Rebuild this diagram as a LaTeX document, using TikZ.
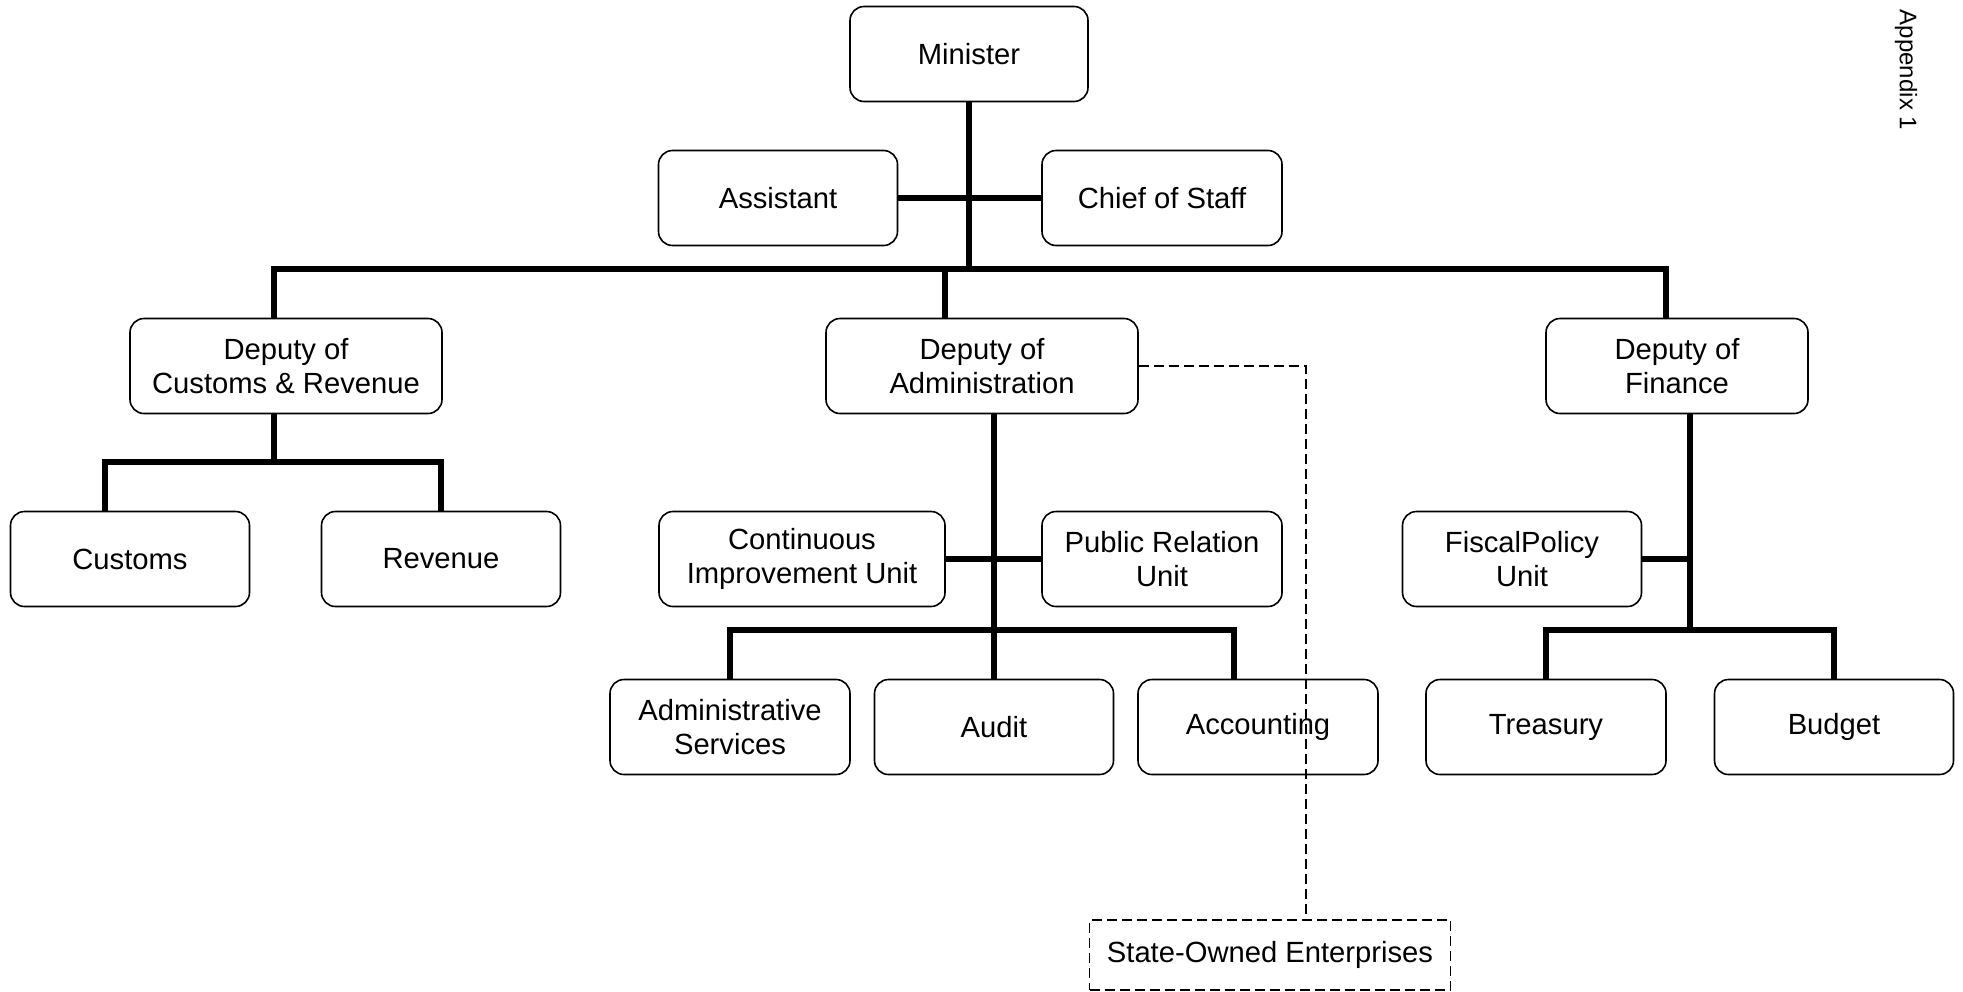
\documentclass[tikz,border=0pt]{standalone}
\usepackage{fontspec}
\setmainfont{Liberation Sans}
\usetikzlibrary{positioning, calc}

\tikzset{
    unit/.style={draw, rounded corners=7pt, line width=0.8pt, align=center,
        minimum height=47.5pt, inner sep=2pt, font=\fontsize{14.6}{17}\selectfont},
    link/.style={line width=3pt, line join=miter},
    dashlink/.style={line width=0.8pt, dash pattern=on 5pt off 2.5pt},
    soebox/.style={draw, line width=0.8pt, dash pattern=on 5pt off 2.5pt,
        minimum width=180.5pt, minimum height=35pt, font=\fontsize{14.6}{17}\selectfont}
}

\begin{document}
\begin{tikzpicture}[x=0.5pt, y=-0.5pt]
    \useasboundingbox (0,0) rectangle (1963,991);

    % units
    \foreach \name/\x/\y/\w/\txt in {
        minister/969/54/238/Minister,
        assistant/778/198/239/Assistant,
        chief/1162/198/240/Chief of Staff,
        cr/286/366/312/{Deputy of\\Customs \& Revenue},
        admin/982/366/312/{Deputy of\\Administration},
        fin/1677/366/262/{Deputy of\\Finance},
        customs/130/559/239/Customs,
        revenue/441/559/239/Revenue,
        ciu/802/559/286/{Continuous\\Improvement Unit},
        pru/1162/559/240/{Public Relation\\Unit},
        fiscal/1522/559/239/{FiscalPolicy\\Unit},
        adsvc/730/727/240/{Administrative\\Services},
        audit/994/727/239/Audit,
        acct/1258/727/240/Accounting,
        treasury/1546/727/240/Treasury,
        budget/1834/727/239/Budget}
    {
        \node[unit, minimum width=\w*0.5pt] (\name) at (\x,\y) {\txt};
    }

    \node[soebox] (soe) at (1270,955) {State-Owned Enterprises};
    \node[rotate=-90, font=\fontsize{12}{14}\selectfont] (appx) at (1906,70) {Appendix 1};

    % junctions
    \coordinate (bL) at (274,269);
    \coordinate (bM) at (969,269);
    \coordinate (bA) at (945,269);
    \coordinate (bR) at (1666,269);
    \coordinate (cL) at (105,462);
    \coordinate (cM) at (274,462);
    \coordinate (aL) at (730,630);
    \coordinate (aM) at (994,630);
    \coordinate (aR) at (1234,630);
    \coordinate (fL) at (1546,630);
    \coordinate (fM) at (1690,630);
    \coordinate (fR) at (1834,630);
    \coordinate (dk) at (1306,366);

    % top level
    \draw[link] (minister.south) -- (bM);
    \draw[link] (assistant) -- (chief);
    \draw[link] (cr.north -| bL) -- (bL) -- (bR) -- (fin.north -| bR);
    \draw[link] (bA) -- (admin.north -| bA);

    % customs & revenue
    \draw[link] (cr.south -| cM) -- (cM);
    \draw[link] (customs.north -| cL) -- (cL) -- (revenue.north |- cL) -- (revenue.north);

    % administration
    \draw[link] (admin.south -| aM) -- (audit.north);
    \draw[link] (ciu) -- (pru);
    \draw[link] (adsvc.north) -- (aL) -- (aR) -- (acct.north -| aR);

    % finance
    \draw[link] (fin.south -| fM) -- (fM);
    \draw[link] (fiscal.east) -- (fiscal.east -| fM);
    \draw[link] (treasury.north) -- (fL) -- (fR) -- (budget.north);

    % state-owned enterprises
    \draw[dashlink] (admin.east) -- (dk) -- (soe.north -| dk);
\end{tikzpicture}
\end{document}
